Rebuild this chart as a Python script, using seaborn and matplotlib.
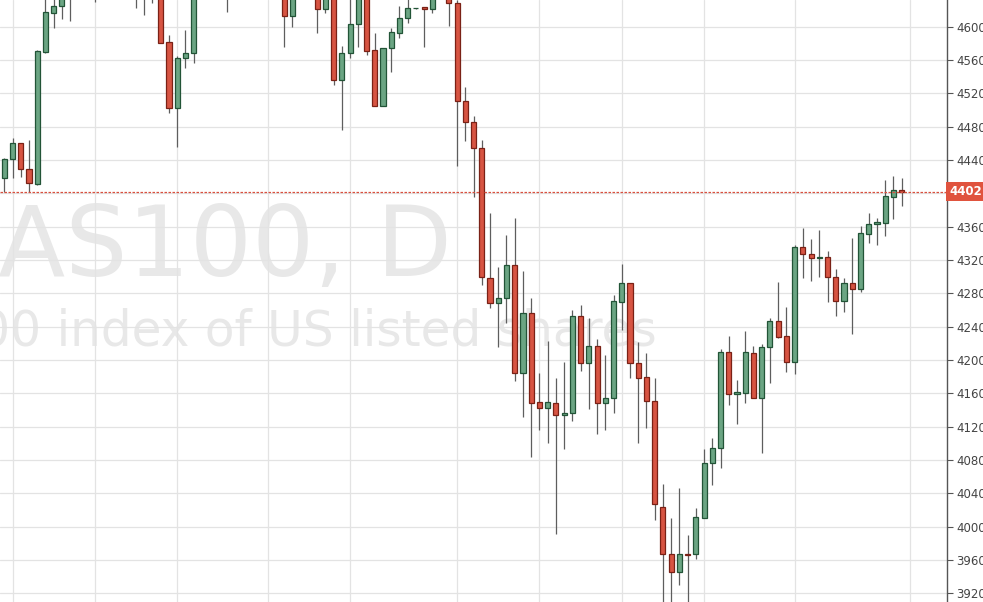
import matplotlib
matplotlib.use("Agg")
import matplotlib.pyplot as plt
import seaborn as sns

# daily candles, oldest first (values above ~4632 sit outside the visible window)
opens = [
    4418, 4441, 4460, 4429, 4411, 4570, 4617, 4625, 4640, 4652,
    4660, 4655, 4648, 4660, 4665, 4658, 4662, 4650, 4655, 4648,
    4581, 4502, 4562, 4568, 4645, 4655, 4650, 4660, 4652, 4658,
    4650, 4662, 4655, 4660, 4645, 4613, 4642, 4650, 4645, 4621,
    4645, 4536, 4568, 4603, 4645, 4572, 4505, 4574, 4593, 4610,
    4622, 4623, 4621, 4642, 4648, 4628, 4511, 4486, 4454, 4299,
    4269, 4275, 4314, 4185, 4256, 4149, 4142, 4149, 4134, 4137,
    4253, 4196, 4217, 4149, 4155, 4270, 4292, 4196, 4179, 4151,
    4023, 3967, 3946, 3967.5, 3967, 4011, 4077, 4094, 4209, 4159,
    4160, 4209, 4155, 4216, 4247, 4229, 4198, 4335, 4327, 4322,
    4324, 4300, 4271, 4292, 4285, 4351, 4363, 4365, 4396, 4404,
]
closes = [
    4441, 4460, 4429, 4412, 4571, 4617, 4625, 4640, 4652, 4660,
    4655, 4648, 4660, 4665, 4658, 4662, 4650, 4655, 4648, 4581,
    4502, 4562, 4568, 4645, 4655, 4650, 4660, 4652, 4658, 4650,
    4662, 4655, 4660, 4645, 4613, 4642, 4650, 4645, 4621, 4645,
    4536, 4568, 4603, 4645, 4571, 4505, 4574, 4593, 4610, 4622,
    4622, 4621, 4642, 4648, 4628, 4511, 4486, 4454, 4300, 4269,
    4275, 4314, 4185, 4256, 4149, 4142, 4149, 4134, 4137, 4253,
    4196, 4217, 4149, 4155, 4271, 4292, 4196, 4179, 4151, 4027,
    3967, 3946, 3967, 3966.5, 4011, 4077, 4094, 4209, 4159, 4161,
    4209, 4155, 4216, 4247, 4228, 4198, 4335, 4327, 4322, 4323,
    4300, 4271, 4292, 4285, 4352, 4363, 4366, 4397, 4404, 4402,
]
highs = [
    4442, 4466, 4461, 4464, 4572, 4635, 4640, 4650, 4660, 4668,
    4670, 4662, 4668, 4672, 4670, 4668, 4668, 4662, 4660, 4652,
    4590, 4565, 4596, 4650, 4662, 4660, 4666, 4665, 4664, 4662,
    4668, 4664, 4666, 4662, 4650, 4648, 4656, 4655, 4650, 4650,
    4650, 4577, 4640, 4650, 4650, 4592, 4575, 4598, 4625, 4635,
    4623, 4623, 4648, 4655, 4652, 4632, 4528, 4493, 4464, 4376,
    4312, 4350, 4371, 4307, 4275, 4184, 4223, 4178, 4198, 4260,
    4266, 4250, 4225, 4206, 4278, 4315, 4293, 4222, 4208, 4178,
    4051, 4010, 4046, 3990, 4022, 4093, 4107, 4213, 4229, 4176,
    4235, 4217, 4219, 4250, 4294, 4264, 4338, 4358, 4345, 4356,
    4331, 4309, 4299, 4347, 4361, 4377, 4370, 4416, 4421, 4419,
]
lows = [
    4402, 4418, 4420, 4402, 4410, 4569, 4599, 4609, 4607, 4645,
    4645, 4630, 4640, 4650, 4648, 4645, 4623, 4614, 4628, 4580,
    4497, 4456, 4551, 4556, 4640, 4645, 4645, 4618, 4645, 4645,
    4645, 4648, 4650, 4640, 4576, 4600, 4636, 4636, 4592, 4616,
    4530, 4476, 4563, 4576, 4566, 4505, 4505, 4546, 4587, 4605,
    4621, 4576, 4616, 4636, 4601, 4433, 4463, 4396, 4290, 4263,
    4216, 4244, 4175, 4132, 4084, 4116, 4100, 3991, 4093, 4127,
    4187, 4141, 4111, 4116, 4137, 4236, 4179, 4100, 4119, 4008,
    3905, 3900, 3930, 3905, 3961, 4010, 4050, 4071, 4146, 4123,
    4149, 4154, 4088, 4173, 4227, 4186, 4183, 4299, 4295, 4300,
    4270, 4253, 4258, 4231, 4282, 4341, 4338, 4349, 4369, 4385,
]
# candle indexes where the date grid lines fall
date_grid = [1, 11, 21, 32, 42, 55, 65, 75, 85, 96, 110]
price_ticks = list(range(3920, 4601, 40))
last_price = 4402

sns.set_theme(style="white")
plt.rcParams["font.family"] = ["DejaVu Sans"]

fig = plt.figure(figsize=(9.83, 6.02), dpi=100)
ax = fig.add_axes([0, 0, 946.7 / 983, 1])

up_fill, up_edge = "#6ba583", "#225437"
dn_fill, dn_edge = "#d75442", "#7a2116"
wick_col = "#5e5e5e"

x = list(range(len(opens)))
ax.vlines(x, lows, highs, color=wick_col, lw=0.9, zorder=2)
bottoms = [min(o, c) for o, c in zip(opens, closes)]
heights = [abs(c - o) for o, c in zip(opens, closes)]
fills = [up_fill if c >= o else dn_fill for o, c in zip(opens, closes)]
edges = [up_edge if c >= o else dn_edge for o, c in zip(opens, closes)]
ax.bar(x, heights, bottom=bottoms, width=0.62, color=fills,
       edgecolor=edges, linewidth=0.9, zorder=3)

# grid
for p in price_ticks:
    ax.axhline(p, color="#e3e3e3", lw=0.9, zorder=0.5)
for g in date_grid:
    ax.axvline(g, color="#e3e3e3", lw=0.9, zorder=0.5)

# last price line and tag
ax.axhline(last_price, color="#d9503f", lw=0.9, ls=(0, (2, 1.2)), zorder=4)
ax.annotate(str(last_price), xy=(1.0, last_price),
            xycoords=("axes fraction", "data"),
            xytext=(2.2, 0), textcoords="offset points",
            ha="left", va="center", fontsize=8.5, fontweight="bold",
            color="white", annotation_clip=False,
            bbox=dict(boxstyle="square,pad=0.28", fc="#e0533e", ec="none"))

# watermark
ax.text(452 / 983, 1 - 276 / 602, "NAS100, D", transform=fig.transFigure,
        ha="right", va="baseline", fontsize=70.5, color="#e8e8e8", zorder=0)
ax.text(657 / 983, 1 - 346 / 602, "NASDAQ 100 index of US listed shares",
        transform=fig.transFigure, ha="right", va="baseline",
        fontsize=35, color="#e8e8e8", zorder=0)

ax.set_xlim(-0.522, 114.47)
ax.set_ylim(3909.6, 4632.0)
ax.set_xticks([])
ax.set_yticks(price_ticks)
ax.yaxis.tick_right()
ax.tick_params(axis="y", direction="out", length=4, width=0.8,
               color="#555555", labelcolor="#444444", labelsize=8.5, pad=3,
               right=True, left=False)
for side in ["top", "left", "bottom"]:
    ax.spines[side].set_visible(False)
ax.spines["right"].set_color("#555555")
ax.spines["right"].set_linewidth(1.0)
ax.set_facecolor("white")
fig.patch.set_facecolor("white")

fig.savefig("out.png", dpi=100)
